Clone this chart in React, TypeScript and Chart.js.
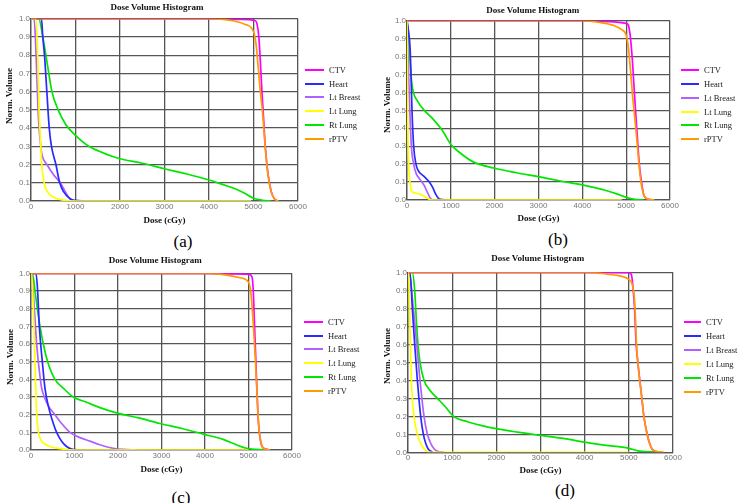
import React, { useEffect, useRef } from "react";
import { Chart, registerables } from "chart.js";

Chart.register(...registerables);

// ---------- Shared labels ----------
const CHART_TITLE = "Dose Volume Histogram";
const X_TITLE = "Dose (cGy)";
const Y_TITLE = "Norm. Volume";
const SERIES_NAMES = ["CTV", "Heart", "Lt Breast", "Lt Lung", "Rt Lung", "rPTV"];
const SERIES_COLORS = ["#ff00ff", "#2a2aff", "#b060ff", "#ffff00", "#00e600", "#ff9a00"];
const DRAW_ORDER = [3, 4, 5, 1, 6, 0];
const X_TICK_STEP = 1000;
const Y_TICK_STEP = 0.1;
const PANEL_LABELS = ["(a)", "(b)", "(c)", "(d)"];

// ---------- Panel (a) : [dose cGy, normalised volume] ----------
const aCTV: [number, number][] = [[0, 1], [4000, 1], [4700, 0.996], [5030, 0.99], [5080, 0.97], [5120, 0.9], [5160, 0.74], [5190, 0.6], [5215, 0.5], [5265, 0.3], [5325, 0.15], [5400, 0.05], [5475, 0.01], [5550, 0]];
const aHeart: [number, number][] = [[0, 1], [235, 1], [265, 0.9], [303, 0.8], [356, 0.6], [410, 0.4], [460, 0.3], [560, 0.2], [645, 0.1], [735, 0.05], [890, 0.01], [1000, 0.003], [1210, 0]];
const aBreast: [number, number][] = [[0, 1], [68, 1], [98, 0.9], [129, 0.7], [159, 0.5], [182, 0.4], [220, 0.3], [250, 0.25], [356, 0.2], [520, 0.14], [659, 0.1], [773, 0.05], [848, 0.02], [962, 0]];
const aLtLung: [number, number][] = [[0, 1], [110, 1], [151, 0.8], [182, 0.5], [220, 0.3], [242, 0.2], [295, 0.1], [371, 0.05], [508, 0.02], [735, 0.005], [1000, 0], [4950, 0]];
const aRtLung: [number, number][] = [[0, 1], [175, 1], [265, 0.9], [335, 0.8], [400, 0.7], [470, 0.6], [610, 0.5], [780, 0.42], [1000, 0.36], [1300, 0.3], [1773, 0.25], [2000, 0.232], [2500, 0.207], [3000, 0.177], [3500, 0.148], [4000, 0.115], [4300, 0.091], [4600, 0.066], [4800, 0.042], [5000, 0.015], [5200, 0.004], [5400, 0]];
const arPTV: [number, number][] = [[0, 1], [4000, 1], [4500, 0.99], [4800, 0.97], [5000, 0.93], [5063, 0.85], [5100, 0.75], [5153, 0.6], [5198, 0.5], [5262, 0.3], [5322, 0.15], [5398, 0.05], [5470, 0.012], [5560, 0]];

// ---------- Panel (b) ----------
const bCTV: [number, number][] = [[0, 1], [4000, 1], [4600, 0.995], [5000, 0.985], [5050, 0.975], [5100, 0.9], [5150, 0.75], [5200, 0.55], [5250, 0.37], [5300, 0.2], [5350, 0.1], [5400, 0.03], [5450, 0.01], [5600, 0]];
const bHeart: [number, number][] = [[0, 1], [30, 0.95], [70, 0.85], [91, 0.7], [114, 0.5], [152, 0.3], [205, 0.2], [243, 0.17], [395, 0.13], [509, 0.1], [585, 0.07], [660, 0.03], [737, 0.005], [926, 0]];
const bBreast: [number, number][] = [[0, 1], [25, 0.8], [50, 0.6], [100, 0.3], [152, 0.2], [205, 0.15], [281, 0.12], [395, 0.08], [471, 0.04], [532, 0.01], [585, 0]];
const bLtLung: [number, number][] = [[0, 1], [8, 0.8], [15, 0.5], [38, 0.2], [68, 0.1], [106, 0.05], [167, 0.04], [319, 0.03], [471, 0.01], [547, 0], [4900, 0]];
const bRtLung: [number, number][] = [[0, 1], [25, 0.95], [91, 0.7], [129, 0.62], [243, 0.55], [395, 0.5], [600, 0.45], [800, 0.39], [1000, 0.31], [1200, 0.265], [1500, 0.214], [2000, 0.177], [2500, 0.152], [3000, 0.13], [3500, 0.106], [4000, 0.084], [4500, 0.056], [4800, 0.033], [5000, 0.015], [5200, 0.004], [5400, 0]];
const brPTV: [number, number][] = [[0, 1], [4000, 1], [4400, 0.99], [4700, 0.975], [4900, 0.95], [5000, 0.92], [5050, 0.85], [5100, 0.72], [5150, 0.57], [5200, 0.45], [5250, 0.32], [5300, 0.18], [5350, 0.08], [5400, 0.03], [5450, 0.01], [5650, 0]];

// ---------- Panel (c) ----------
const cCTV: [number, number][] = [[0, 1], [4100, 1], [4700, 0.997], [5000, 0.995], [5080, 0.98], [5110, 0.9], [5140, 0.7], [5170, 0.5], [5200, 0.3], [5230, 0.15], [5270, 0.06], [5310, 0.02], [5400, 0.005], [5500, 0]];
const cHeart: [number, number][] = [[0, 1], [115, 1], [153, 0.9], [191, 0.7], [260, 0.5], [321, 0.35], [398, 0.25], [513, 0.15], [589, 0.1], [704, 0.05], [819, 0.02], [933, 0.005], [1100, 0.001], [1469, 0]];
const cBreast: [number, number][] = [[0, 1], [15, 1], [76, 0.8], [130, 0.6], [191, 0.45], [245, 0.35], [306, 0.3], [398, 0.25], [551, 0.2], [704, 0.15], [895, 0.1], [1125, 0.07], [1354, 0.05], [1584, 0.03], [1890, 0.01], [2119, 0.003], [2425, 0]];
const cLtLung: [number, number][] = [[0, 1], [15, 1], [54, 0.8], [92, 0.5], [115, 0.3], [145, 0.15], [191, 0.08], [283, 0.04], [436, 0.02], [742, 0.005], [1000, 0], [5000, 0]];
const cRtLung: [number, number][] = [[0, 1], [31, 1], [92, 0.9], [145, 0.8], [207, 0.7], [283, 0.6], [383, 0.5], [551, 0.4], [742, 0.35], [972, 0.3], [1278, 0.27], [1584, 0.24], [1966, 0.21], [2502, 0.18], [2961, 0.15], [3497, 0.12], [3956, 0.09], [4415, 0.06], [4721, 0.03], [4950, 0.01], [5180, 0.003], [5400, 0]];
const crPTV: [number, number][] = [[0, 1], [4100, 1], [4500, 0.99], [4800, 0.975], [5000, 0.95], [5050, 0.9], [5100, 0.75], [5150, 0.55], [5190, 0.35], [5220, 0.2], [5250, 0.1], [5290, 0.04], [5340, 0.01], [5500, 0]];

// ---------- Panel (d) ----------
const dCTV: [number, number][] = [[0, 1], [4100, 1], [5000, 0.998], [5060, 0.985], [5100, 0.9], [5130, 0.8], [5166, 0.6], [5204, 0.5], [5295, 0.3], [5340, 0.2], [5416, 0.1], [5469, 0.05], [5522, 0.02], [5600, 0.005], [5735, 0]];
const dHeart: [number, number][] = [[0, 1], [45, 1], [98, 0.8], [151, 0.6], [212, 0.4], [287, 0.2], [348, 0.1], [401, 0.05], [454, 0.02], [552, 0]];
const dBreast: [number, number][] = [[0, 1], [23, 1], [121, 0.8], [197, 0.6], [272, 0.4], [363, 0.2], [439, 0.1], [514, 0.05], [590, 0.02], [666, 0.005], [817, 0]];
const dLtLung: [number, number][] = [[0, 1], [15, 1], [45, 0.7], [76, 0.4], [136, 0.2], [212, 0.1], [287, 0.05], [363, 0.02], [477, 0], [5000, 0]];
const dRtLung: [number, number][] = [[0, 1], [98, 1], [151, 0.9], [197, 0.7], [227, 0.6], [272, 0.5], [363, 0.4], [477, 0.35], [666, 0.3], [855, 0.25], [1029, 0.2], [1346, 0.17], [1649, 0.15], [2027, 0.13], [2481, 0.112], [3000, 0.094], [3540, 0.076], [4000, 0.057], [4448, 0.04], [5000, 0.022], [5204, 0.008], [5507, 0.002], [5700, 0]];
const drPTV: [number, number][] = [[0, 1], [4100, 1], [4500, 0.99], [4800, 0.98], [5000, 0.96], [5080, 0.93], [5120, 0.87], [5150, 0.75], [5170, 0.62], [5204, 0.5], [5295, 0.3], [5340, 0.2], [5416, 0.1], [5469, 0.05], [5522, 0.02], [5620, 0.005], [5800, 0]];

const PANEL_SERIES = [
  [aCTV, aHeart, aBreast, aLtLung, aRtLung, arPTV],
  [bCTV, bHeart, bBreast, bLtLung, bRtLung, brPTV],
  [cCTV, cHeart, cBreast, cLtLung, cRtLung, crPTV],
  [dCTV, dHeart, dBreast, dLtLung, dRtLung, drPTV],
];

// ---------- Layout (positions / styles only) ----------
type Layout = {
  left: number; top: number; width: number; height: number;
  padRight: number; padTop: number; titleX: number; titleY: number;
  yAxisW: number; yTitleX: number; yTitleY: number; xAxisH: number; xTitleBottom: number;
  legendLineX: number; legendTextX: number; legendY0: number; legendY1: number;
  labelX: number; labelY: number;
};

const LAYOUTS: Layout[] = [
  { left: 0, top: 0, width: 314, height: 228, padRight: 16, padTop: 18.7, titleX: 157, titleY: 6.7, yAxisW: 31, yTitleX: 9.2, yTitleY: 96, xAxisH: 27, xTitleBottom: 2, legendLineX: 305, legendTextX: 329, legendY0: 70, legendY1: 138.5, labelX: 183, labelY: 242 },
  { left: 376, top: 0, width: 313, height: 226, padRight: 19, padTop: 20.7, titleX: 532.7, titleY: 10, yAxisW: 31, yTitleX: 386.5, yTitleY: 104.5, xAxisH: 26, xTitleBottom: 2.3, legendLineX: 681, legendTextX: 704, legendY0: 70, legendY1: 139.3, labelX: 558, labelY: 240 },
  { left: 0, top: 250, width: 311, height: 227, padRight: 19, padTop: 23.3, titleX: 155.3, titleY: 260, yAxisW: 31, yTitleX: 10, yTitleY: 356.7, xAxisH: 27, xTitleBottom: 2.3, legendLineX: 304, legendTextX: 328, legendY0: 321.7, legendY1: 390.7, labelX: 181, labelY: 498 },
  { left: 376, top: 250, width: 323, height: 229, padRight: 26, padTop: 22.3, titleX: 537.7, titleY: 258.3, yAxisW: 32, yTitleX: 386.5, yTitleY: 356, xAxisH: 26.7, xTitleBottom: 2.6, legendLineX: 684, legendTextX: 706, legendY0: 321.7, legendY1: 391.7, labelX: 565, labelY: 491 },
];

const SERIF = '"Liberation Serif", "Times New Roman", serif';
const SANS = '"Liberation Sans", Arial, sans-serif';
const GRID = "#555555";

function Panel({ index }: { index: number }) {
  const ref = useRef<HTMLCanvasElement>(null);
  const L = LAYOUTS[index];
  useEffect(() => {
    const series = PANEL_SERIES[index];
    const chart = new Chart(ref.current as HTMLCanvasElement, {
      type: "line",
      data: {
        datasets: series.map((pts, i) => ({
          label: SERIES_NAMES[i],
          data: pts.map(([x, y]) => ({ x, y })),
          borderColor: SERIES_COLORS[i],
          backgroundColor: SERIES_COLORS[i],
          borderWidth: 1.7,
          pointRadius: 0,
          fill: false,
          cubicInterpolationMode: "monotone",
          order: DRAW_ORDER[i],
        })),
      },
      options: {
        responsive: false,
        animation: false,
        devicePixelRatio: 1,
        layout: { padding: { left: 0, right: L.padRight, top: L.padTop, bottom: 0 } },
        plugins: {
          legend: { display: false },
          tooltip: { enabled: false },
          title: { display: false },
        },
        scales: {
          x: {
            type: "linear",
            min: 0,
            max: 6000,
            afterFit: (s: any) => { s.height = L.xAxisH; },
            ticks: {
              stepSize: X_TICK_STEP,
              autoSkip: false,
              maxRotation: 0,
              padding: 1,
              color: "#777",
              font: { family: SANS, size: 8 },
              callback: (v: any) => String(v),
            },
            grid: { color: GRID, lineWidth: 1.3, drawTicks: false },
            border: { color: GRID, width: 1.3 },
            title: {
              display: true,
              text: X_TITLE,
              color: "#111",
              font: { family: SERIF, size: 9, weight: "bold" },
              padding: { top: 0, bottom: L.xTitleBottom },
            },
          },
          y: {
            type: "linear",
            min: 0,
            max: 1,
            afterFit: (s: any) => { s.width = L.yAxisW; },
            ticks: {
              stepSize: Y_TICK_STEP,
              autoSkip: false,
              padding: 1,
              color: "#777",
              font: { family: SANS, size: 8 },
              callback: (v: any) => Number(v).toFixed(1),
            },
            grid: { color: GRID, lineWidth: 1.3, drawTicks: false },
            border: { color: GRID, width: 1.3 },
            title: { display: false },
          },
        },
      } as any,
    });
    return () => chart.destroy();
  }, [index]);

  const step = (L.legendY1 - L.legendY0) / (SERIES_NAMES.length - 1);
  return (
    <>
      <canvas
        ref={ref}
        width={L.width}
        height={L.height}
        style={{ position: "absolute", left: L.left, top: L.top, width: L.width, height: L.height }}
      />
      <div
        style={{
          position: "absolute",
          left: L.titleX - 80,
          top: L.titleY - 6,
          width: 160,
          height: 12,
          lineHeight: "12px",
          textAlign: "center",
          fontFamily: SERIF,
          fontSize: 9,
          fontWeight: "bold",
          color: "#111",
          whiteSpace: "nowrap",
        }}
      >
        {CHART_TITLE}
      </div>
      <div
        style={{
          position: "absolute",
          left: L.yTitleX - 40,
          top: L.yTitleY - 6,
          width: 80,
          height: 12,
          lineHeight: "12px",
          textAlign: "center",
          fontFamily: SERIF,
          fontSize: 9,
          fontWeight: "bold",
          color: "#111",
          whiteSpace: "nowrap",
          transform: "rotate(-90deg)",
        }}
      >
        {Y_TITLE}
      </div>
      {SERIES_NAMES.map((name, i) => {
        const cy = L.legendY0 + i * step;
        return (
          <React.Fragment key={name}>
            <div
              style={{
                position: "absolute",
                left: L.legendLineX,
                top: cy - 1,
                width: L.legendTextX - L.legendLineX - 5,
                height: 2,
                background: SERIES_COLORS[i],
              }}
            />
            <div
              style={{
                position: "absolute",
                left: L.legendTextX,
                top: cy - 6,
                height: 12,
                lineHeight: "12px",
                fontFamily: SERIF,
                fontSize: 8.5,
                color: "#222",
                whiteSpace: "nowrap",
              }}
            >
              {name}
            </div>
          </React.Fragment>
        );
      })}
      <div
        style={{
          position: "absolute",
          left: L.labelX - 30,
          top: L.labelY - 10,
          width: 60,
          height: 20,
          lineHeight: "20px",
          textAlign: "center",
          fontFamily: SERIF,
          fontSize: 17,
          color: "#000",
        }}
      >
        {PANEL_LABELS[index]}
      </div>
    </>
  );
}

export default function App() {
  return (
    <div style={{ position: "absolute", left: 0, top: 0, width: 742, height: 503, background: "#fff", overflow: "hidden" }}>
      {[0, 1, 2, 3].map((i) => (
        <Panel key={i} index={i} />
      ))}
    </div>
  );
}
